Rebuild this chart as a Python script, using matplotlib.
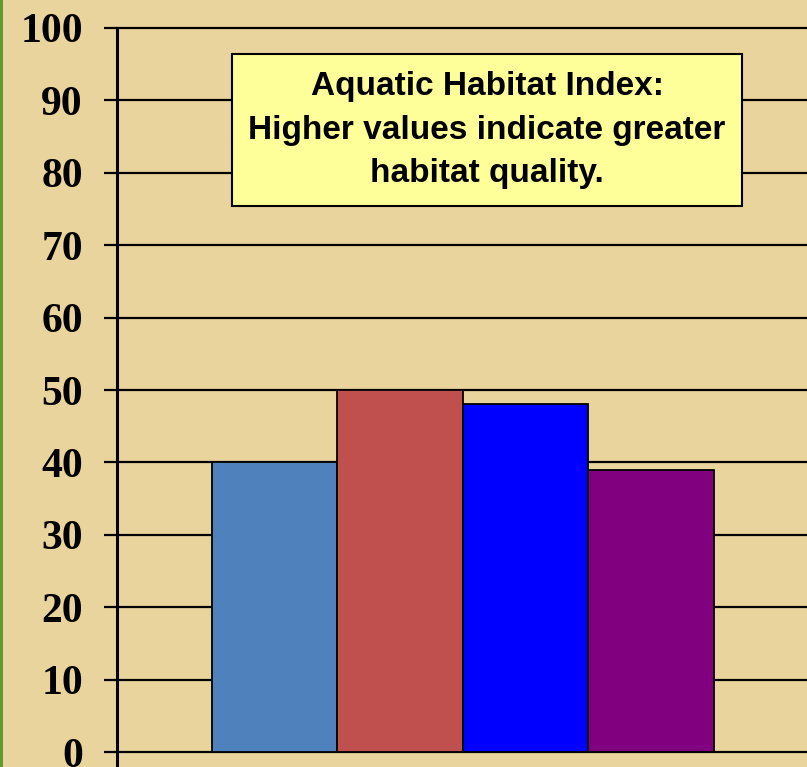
import matplotlib
matplotlib.use("Agg")
import matplotlib.pyplot as plt
from matplotlib.patches import Rectangle

# Data
# ----
categories = ["A", "B", "C", "D"]
values = [40, 50, 48, 39]
bar_colors = ["#4F81BD", "#C0504D", "#0000FF", "#800080"]
y_ticks = [0, 10, 20, 30, 40, 50, 60, 70, 80, 90, 100]
note = "Aquatic Habitat Index:\nHigher values indicate greater\nhabitat quality."

W, H = 807, 767
fig = plt.figure(figsize=(W / 100, H / 100), dpi=100)
fig.patch.set_facecolor("#EAD49E")

# thin green strip on the left edge
fig.patches.append(Rectangle((0, 0), 3 / W, 1, transform=fig.transFigure,
                             facecolor="#5E9A2E", edgecolor="none", zorder=0))

ax = fig.add_axes([117 / W, 0, 1 - 117 / W, (H - 28) / H])
ax.set_facecolor("none")

x = list(range(len(categories)))
ax.bar(x, values, width=1.0, color=bar_colors, edgecolor="black", linewidth=1.3, zorder=3)

ax.set_xlim(-1.255, 4.243)
ax.set_ylim(-2.07, 100)
ax.set_yticks(y_ticks)
ax.set_yticklabels([str(t) for t in y_ticks], fontfamily="Liberation Serif",
                   fontweight="bold", fontsize=30)
ax.set_xticks([])
for t in y_ticks:
    ax.axhline(t, color="black", linewidth=1.6, zorder=1, clip_on=False)
ax.tick_params(axis="y", length=9.5, width=1.6, pad=15, color="black")

for side in ["top", "right", "bottom"]:
    ax.spines[side].set_visible(False)
ax.spines["left"].set_linewidth(2.2)
ax.spines["left"].set_bounds(-2.07, 100)

# note box, centred near (487, 130) px
ax.text((487 - 117) / (W - 117), (H - 130) / (H - 28), note,
        transform=ax.transAxes, ha="center", va="center",
        fontfamily="Liberation Sans", fontweight="bold", fontsize=24, linespacing=1.52,
        bbox=dict(boxstyle="square,pad=0.5", facecolor="#FFFF99", edgecolor="black", linewidth=1.5),
        zorder=5)

fig.savefig("out.png", dpi=100, facecolor=fig.get_facecolor())
